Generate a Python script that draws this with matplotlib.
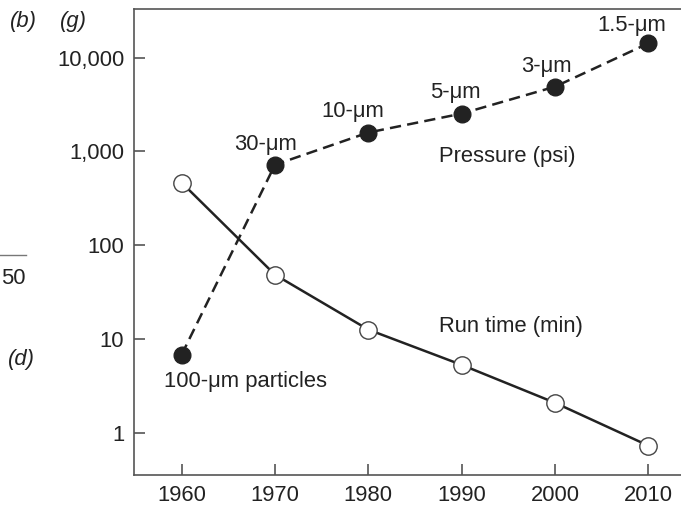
import matplotlib
matplotlib.use("Agg")
import matplotlib.pyplot as plt
from matplotlib.ticker import FixedLocator, FixedFormatter, NullLocator

plt.rcParams['font.family'] = ['Liberation Sans', 'DejaVu Sans']

years = [1960, 1970, 1980, 1990, 2000, 2010]
pressure_psi = [6.8, 720, 1590, 2530, 4900, 14200]
run_time_min = [465, 48.5, 12.6, 5.3, 2.09, 0.73]
particle_labels = ["100-μm particles", "30-μm", "10-μm", "5-μm", "3-μm", "1.5-μm"]
y_ticks = [1, 10, 100, 1000, 10000]
y_tick_labels = ["1", "10", "100", "1,000", "10,000"]
x_ticks = years
x_tick_labels = [str(y) for y in years]

fig = plt.figure(figsize=(6.81, 5.08), dpi=100)
ax = fig.add_axes([134/681, 1 - 475/508, 1 - 134/681, (475 - 9)/508])
ax.set_yscale('log')
ax.set_xlim(1954.9, 2013.5)
ax.set_ylim(0.355, 33000)

ink = '#222222'
ax.plot(years, pressure_psi, linestyle=(0, (4.5, 2.5)), color=ink, lw=1.8,
        marker='o', markersize=12, markerfacecolor=ink, markeredgecolor=ink, zorder=3)
ax.plot(years, run_time_min, linestyle='-', color=ink, lw=1.8,
        marker='o', markersize=12.5, markerfacecolor='white', markeredgecolor='#444444',
        markeredgewidth=1.0, zorder=3)

fs = 15.8
ax.yaxis.set_major_locator(FixedLocator(y_ticks))
ax.yaxis.set_major_formatter(FixedFormatter(y_tick_labels))
ax.yaxis.set_minor_locator(NullLocator())
ax.xaxis.set_major_locator(FixedLocator(x_ticks))
ax.xaxis.set_major_formatter(FixedFormatter(x_tick_labels))
ax.tick_params(axis='both', direction='in', length=8, width=1.2, color='#555555',
               labelsize=fs, labelcolor=ink, pad=7)
for s in ['left', 'bottom', 'top']:
    ax.spines[s].set_color('#555555')
    ax.spines[s].set_linewidth(1.2)
ax.spines['right'].set_visible(False)

# particle size labels (offsets in points from each pressure point)
offsets = [(46, -19.5), (-7, 14.5), (-11.5, 15), (-4.5, 15), (-6.5, 14.5), (-12, 12.5)]
for i in range(6):
    ax.annotate(particle_labels[i], (years[i], pressure_psi[i]), xytext=offsets[i],
                textcoords='offset points', ha='center', va='center', fontsize=fs, color=ink)

ax.text(1987.6, 890, "Pressure (psi)", fontsize=fs, color=ink, ha='left', va='center')
ax.text(1987.6, 13.5, "Run time (min)", fontsize=fs, color=ink, ha='left', va='center')

# fragments of neighbouring panels
fig.text(10/681, 1 - 22/508, "(b)", fontsize=fs, style='italic', color=ink, va='center')
fig.text(60/681, 1 - 22/508, "(g)", fontsize=fs, style='italic', color=ink, va='center')
fig.text(8/681, 1 - 359/508, "(d)", fontsize=fs, style='italic', color=ink, va='center')
fig.text(1/681, 1 - 279/508, "50", fontsize=fs, color=ink, va='center', ha='left')
fig.add_artist(plt.Line2D([0, 26/681], [1 - 255/508, 1 - 255/508], color='#777777', lw=1))

fig.savefig("out.png", dpi=100)
